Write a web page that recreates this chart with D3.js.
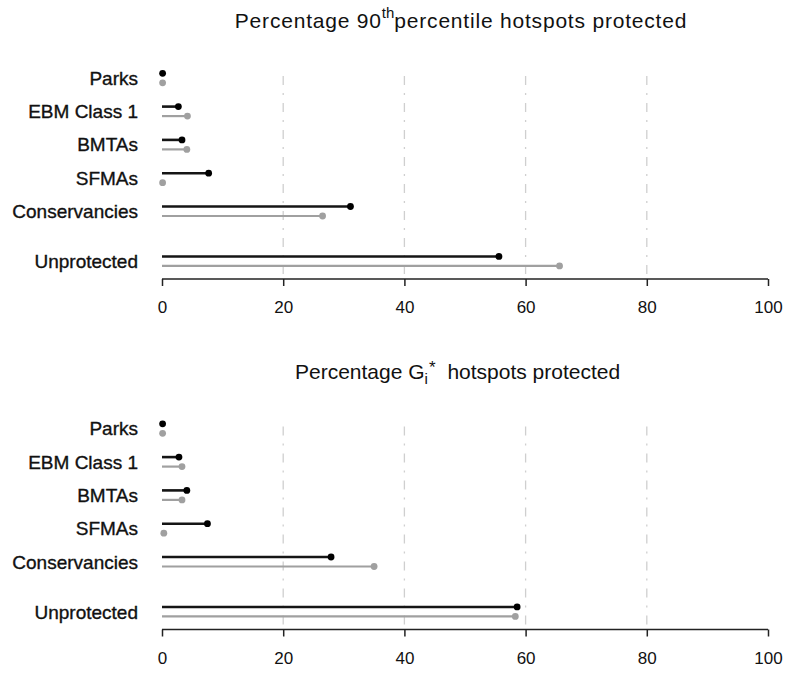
<!DOCTYPE html>
<html>
<head>
<meta charset="utf-8">
<script src="https://cdn.jsdelivr.net/npm/d3@7/dist/d3.min.js"></script>
<style>
  html, body { margin: 0; padding: 0; background: #fff; }
  svg { display: block; font-family: "Liberation Sans", Arial, sans-serif; }
</style>
</head>
<body>
<svg id="chart" width="787" height="677"></svg>
<script>
// ---- data ----
const categories = ["Parks", "EBM Class 1", "BMTAs", "SFMAs", "Conservancies", "Unprotected"];
// Panel 1: Percentage 90th percentile hotspots protected
const p90SeriesA = [0.1, 2.7, 3.3, 7.7, 31.1, 55.6];   // black
const p90SeriesB = [0.1, 4.2, 4.1, 0.1, 26.5, 65.6];   // grey
// Panel 2: Percentage Gi* hotspots protected
const giSeriesA = [0.1, 2.8, 4.1, 7.5, 27.9, 58.6];    // black
const giSeriesB = [0.1, 3.3, 3.3, 0.3, 35.0, 58.3];    // grey
const xTicks = [0, 20, 40, 60, 80, 100];
const gridTicks = [20, 40, 60, 80];

const svg = d3.select("#chart");
const x = d3.scaleLinear().domain([0, 100]).range([162, 768]);

function slot(i) { return i + (i === categories.length - 1 ? 0.5 : 0); }

function panel(top, seriesA, seriesB, titleFn) {
  const g = svg.append("g");
  const y = d3.scaleLinear().domain([0, 1]).range([top + 73.3, top + 106.6]);
  const axisY = top + 279;
  const greyOff = 0.285;

  // title
  titleFn(g.append("text").attr("y", top + 28).attr("fill", "#111"));

  // grid lines
  g.selectAll("line.grid").data(gridTicks).join("line")
    .attr("class", "grid")
    .attr("x1", d => x(d)).attr("x2", d => x(d))
    .attr("y1", top + 76).attr("y2", axisY)
    .attr("stroke", "#cfcfcf").attr("stroke-width", 1.3)
    .attr("stroke-dasharray", "9,8,2,8");

  // axis
  const axis = d3.axisBottom(x).tickValues(xTicks).tickSize(7).tickPadding(15).tickFormat(d3.format("d"));
  const ag = g.append("g").attr("transform", `translate(0,${axisY})`).call(axis);
  ag.select(".domain").attr("stroke", "#222").attr("stroke-width", 1.5).attr("d", `M${x(0)},0H${x(100)}`);
  ag.selectAll(".tick line").attr("stroke", "#222").attr("stroke-width", 1.5);
  ag.selectAll(".tick text").attr("font-size", 17).attr("fill", "#111")
    .attr("font-family", "'Liberation Sans', Arial, sans-serif");

  // category labels
  g.selectAll("text.cat").data(categories).join("text")
    .attr("class", "cat")
    .attr("x", 138).attr("y", (d, i) => y(slot(i) + greyOff / 2))
    .attr("dy", "0.36em").attr("text-anchor", "end")
    .attr("font-size", 19).attr("fill", "#111")
    .attr("stroke", "#111").attr("stroke-width", 0.35)
    .text(d => d);

  // grey series
  g.selectAll("line.b").data(seriesB).join("line")
    .attr("x1", x(0)).attr("x2", d => x(d))
    .attr("y1", (d, i) => y(slot(i) + greyOff)).attr("y2", (d, i) => y(slot(i) + greyOff))
    .attr("stroke", "#a0a0a0").attr("stroke-width", 2.2);
  g.selectAll("circle.b").data(seriesB).join("circle")
    .attr("cx", d => x(d)).attr("cy", (d, i) => y(slot(i) + greyOff)).attr("r", 3.4)
    .attr("fill", "#a0a0a0");

  // black series
  g.selectAll("line.a").data(seriesA).join("line")
    .attr("x1", x(0)).attr("x2", d => x(d))
    .attr("y1", (d, i) => y(slot(i))).attr("y2", (d, i) => y(slot(i)))
    .attr("stroke", "#151515").attr("stroke-width", 2.6);
  g.selectAll("circle.a").data(seriesA).join("circle")
    .attr("cx", d => x(d)).attr("cy", (d, i) => y(slot(i))).attr("r", 3.4)
    .attr("fill", "#000");
}

panel(0, p90SeriesA, p90SeriesB, t => {
  t.attr("x", 461).attr("text-anchor", "middle").attr("font-size", 21).attr("letter-spacing", 0.8);
  t.append("tspan").text("Percentage 90");
  t.append("tspan").attr("font-size", 15).attr("dy", -10).attr("letter-spacing", 0).text("th");
  t.append("tspan").attr("dy", 10).text("percentile hotspots protected");
});

panel(350.5, giSeriesA, giSeriesB, t => {
  t.attr("x", 295).attr("text-anchor", "start").attr("font-size", 21);
  t.append("tspan").text("Percentage G");
  t.append("tspan").attr("font-size", 15).attr("dy", 5).text("i");
  t.append("tspan").attr("font-size", 17).attr("dy", -11).attr("dx", 1).text("*");
  t.append("tspan").attr("dy", 6).attr("dx", 6).text(" hotspots protected");
});
</script>
</body>
</html>
